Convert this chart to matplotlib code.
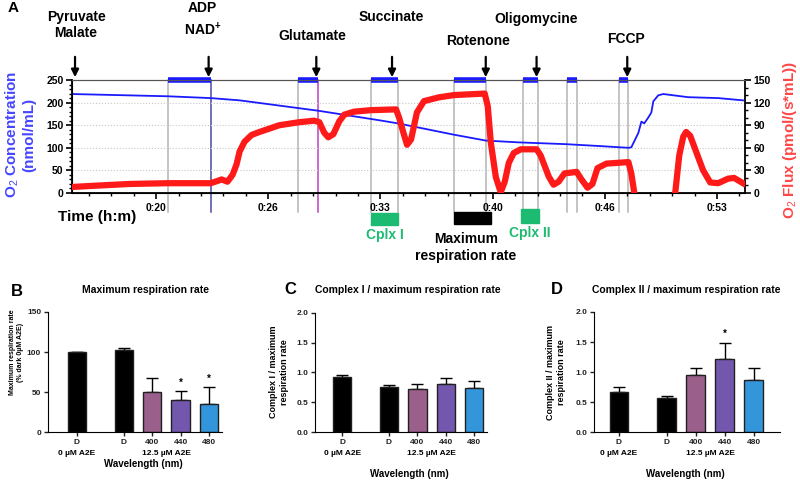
import numpy as np
import matplotlib
matplotlib.use("Agg")
import matplotlib.pyplot as plt
from matplotlib.patches import Rectangle
from matplotlib import font_manager

plt.rcParams['font.family'] = ['Liberation Sans', 'DejaVu Sans']
plt.rcParams['mathtext.fontset'] = 'custom'
plt.rcParams['mathtext.rm'] = 'Liberation Sans'
plt.rcParams['mathtext.bf'] = 'Liberation Sans:bold'

# ---- panel A data (time in minutes) ----
t_o2 = [15.0, 20.69, 23.24, 24.96, 29.64, 33.25, 34.38, 37.70, 39.59, 41.55, 44.39,
        46.29, 48.07, 48.24, 48.66, 48.84, 49.01, 49.25, 49.43, 49.55, 49.84, 50.14,
        51.62, 53.40, 54.88]
o2_conc = [219, 214, 210, 205, 182, 161, 154, 129, 116, 112, 108,
           104, 100, 101, 133, 158, 154, 167, 178, 203, 216, 219,
           212, 210, 205]

t_flux = [15.0, 16.66, 18.44, 20.69, 23.24, 23.65, 23.89, 24.24, 24.54, 24.78, 24.96,
          25.25, 25.67, 26.14, 27.33, 28.51, 29.40, 29.70, 29.99, 30.23, 30.53, 30.88,
          31.18, 31.77, 32.78, 34.26, 34.44, 34.67, 34.91, 35.15, 35.50, 35.92, 36.81,
          37.70, 39.53, 39.71, 39.89, 40.19, 40.48, 40.72, 40.96, 41.25, 41.67, 42.61,
          42.85, 43.09, 43.33, 43.62, 43.92, 44.27, 44.99, 45.28, 45.64, 45.93, 46.23,
          46.76, 48.07, 48.24, 48.42, 48.66, 50.70, 50.85, 51.09, 51.33, 51.50, 51.74,
          52.04, 52.51, 52.93, 53.40, 53.99, 54.35, 54.88]
o2_flux = [8, 10, 12, 13, 13, 16, 18, 15, 24, 38, 55,
           68, 77, 81, 90, 94, 96, 94, 80, 74, 78, 95,
           104, 108, 110, 111, 100, 82, 64, 71, 107, 122, 127,
           130, 132, 115, 67, 21, 1, 15, 40, 53, 58, 58,
           50, 36, 22, 11, 15, 26, 28, 18, 7, 12, 33,
           39, 41, 26, 0, -40, -40, 0, 50, 75, 81, 76,
           58, 30, 14, 13, 19, 20, 13]

# marked windows (start, end) in minutes
windows = [(20.69, 23.24), (28.45, 29.64), (32.78, 34.38), (37.70, 39.59),
           (41.79, 42.67), (44.39, 45.04), (47.53, 48.07)]

# injections
arrow_t = [15.18, 23.12, 29.52, 34.02, 39.59, 42.61, 48.0]
inj_labels = ["Pyruvate\nMalate", "ADP", "NAD$^{\\mathbf{+}}$", "Glutamate", "Succinate",
              "Rotenone", "Oligomycine", "FCCP"]
inj_label_t = [15.24, 22.75, 22.75, 29.28, 33.96, 39.12, 42.56, 47.95]
inj_label_y = [1.487, 1.637, 1.442, 1.389, 1.558, 1.345, 1.54, 1.363]

time_ticks = [20, 26.667, 33.333, 40, 46.667, 53.333]
time_labels = ["0:20", "0:26", "0:33", "0:40", "0:46", "0:53"]

# ---- bar panels data ----
groups = ["D", "D", "400", "440", "480"]
bar_colors = ["black", "black", "#9b5f8b", "#7357af", "#3396db"]
max_resp = [100, 103, 50, 39.5, 35]
max_resp_err = [0, 2, 17, 12, 21]
cplx1 = [0.93, 0.76, 0.72, 0.81, 0.735]
cplx1_err = [0.02, 0.025, 0.09, 0.10, 0.115]
cplx2 = [0.66, 0.56, 0.95, 1.21, 0.87]
cplx2_err = [0.09, 0.035, 0.11, 0.28, 0.20]

BLUE = "#1a1aff"
RED = "#ff1a1a"
GREEN = "#1dbb72"

fig = plt.figure(figsize=(8, 4.82), dpi=100)

# ================= Panel A =================
axA = fig.add_axes([0.09, 0.5996, 0.8413, 0.2344])
axR = axA.twinx()
axA.set_xlim(15, 55)
axA.set_ylim(0, 250)
axR.set_ylim(0, 150)

axA.yaxis.grid(True, ls=':', color='#c8c8c8', lw=0.8)
axA.plot(t_o2, o2_conc, color=BLUE, lw=1.3, zorder=3)
axR.plot(t_flux, o2_flux, color=RED, lw=4.5, solid_joinstyle='round', zorder=3)

xt = axA.get_xaxis_transform()
for i, (a, b) in enumerate(windows):
    for j, t in enumerate((a, b)):
        col = '#b4b4b4'
        if i == 0 and j == 1:
            col = '#4a4aa0'
        if i == 1 and j == 1:
            col = '#c040c0'
        axA.plot([t, t], [-0.168, 1], transform=xt, color=col, lw=1.1,
                 clip_on=False, zorder=1)
    axA.plot([a, b], [1.0, 1.0], transform=xt, color=BLUE, lw=4,
             solid_capstyle='butt', clip_on=False, zorder=5)

for t in arrow_t:
    axA.annotate('', xy=(t, 1.025), xytext=(t, 1.205), xycoords=xt, textcoords=xt,
                 arrowprops=dict(arrowstyle='-|>', color='black', lw=1.6,
                                 mutation_scale=11, shrinkA=0, shrinkB=0))
for s, t, y in zip(inj_labels, inj_label_t, inj_label_y):
    axA.text(t, y, s, transform=xt, ha='center', va='center', fontsize=10,
             fontweight='bold', linespacing=1.15)

# boxes below the time axis
cp1 = windows[2]
axA.add_patch(Rectangle((cp1[0], -0.283), cp1[1] - cp1[0], 0.106, transform=xt,
                        color=GREEN, clip_on=False))
axA.text(np.mean(cp1), -0.37, "Cplx I", transform=xt, ha='center', va='center',
         fontsize=10, fontweight='bold', color=GREEN)
mx = windows[3]
axA.add_patch(Rectangle((mx[0], -0.274), mx[1] - mx[0] + 0.3, 0.106, transform=xt,
                        color='black', clip_on=False))
axA.text(np.mean(mx) - 0.25, -0.48, "Maximum\nrespiration rate", transform=xt,
         ha='center', va='center', fontsize=10, fontweight='bold', linespacing=1.25)
cp2 = windows[4]
axA.add_patch(Rectangle((cp2[0] - 0.1, -0.265), cp2[1] - cp2[0] + 0.2, 0.123,
                        transform=xt, color=GREEN, clip_on=False))
axA.text(np.mean(cp2), -0.35, "Cplx II", transform=xt, ha='center', va='center',
         fontsize=10, fontweight='bold', color=GREEN)

axA.set_xticks(time_ticks)
axA.set_xticklabels(time_labels)
axA.set_xticks(np.arange(16, 55, 4 / 3), minor=True)
axA.set_yticks(range(0, 251, 50))
axA.set_yticks(range(0, 251, 10), minor=True)
axR.set_yticks(range(0, 151, 30))
axR.set_yticks(range(0, 151, 10), minor=True)
for a in (axA, axR):
    a.tick_params(which='major', length=4, width=1.2, labelsize=7.5, pad=2)
    a.tick_params(which='minor', length=2.5, width=1)
    for lab in a.get_xticklabels() + a.get_yticklabels():
        lab.set_fontweight('bold')
axA.tick_params(axis='x', pad=3)
for sp in ('left', 'bottom'):
    axA.spines[sp].set_linewidth(1.3)
axR.spines['right'].set_linewidth(1.3)
axA.spines['top'].set_color('#555555')
axR.spines['top'].set_color('#555555')
axA.spines['right'].set_visible(False)

fig.text(0.025, 0.72, "O$_2$ Concentration\n(nmol/mL)", rotation=90, ha='center',
         va='center', fontsize=11, fontweight='bold', color='#4646ff', linespacing=1.1)
fig.text(0.988, 0.71, "O$_2$ Flux (pmol/(s*mL))", rotation=90, ha='center',
         va='center', fontsize=11, fontweight='bold', color='#ff4646')
fig.text(0.072, 0.55, "Time (h:m)", ha='left', va='center', fontsize=11,
         fontweight='bold')
fig.text(0.009, 0.983, "A", ha='left', va='center', fontsize=11, fontweight='bold')

# ================= Panels B-D =================
pos = [0, 1.65, 2.65, 3.65, 4.65]


def bar_panel(rect, vals, errs, ymax, yticks, xlim, stars, star_y, wl_x, wl_y):
    ax = fig.add_axes(rect)
    ax.bar(pos, vals, width=0.65, color=bar_colors, edgecolor='#202020', lw=1, zorder=2)
    ax.errorbar(pos, vals, yerr=[np.zeros(len(vals)), errs], fmt='none',
                ecolor='black', elinewidth=1, capsize=4, capthick=1, zorder=1)
    for i in stars:
        ax.text(pos[i], star_y[i], "*", ha='center', va='center', fontsize=7,
                fontweight='bold')
    ax.set_xlim(*xlim)
    ax.set_ylim(0, ymax)
    ax.set_yticks(yticks)
    ax.set_xticks(pos)
    ax.set_xticklabels(groups)
    ax.spines['top'].set_visible(False)
    ax.spines['right'].set_visible(False)
    ax.spines['left'].set_bounds(0, ymax)
    ax.tick_params(length=3, width=1, labelsize=6, pad=2, colors='#222222')
    for lab in ax.get_xticklabels() + ax.get_yticklabels():
        lab.set_fontweight('bold')
    bt = ax.get_xaxis_transform()
    ax.text(pos[0], -0.183, "0 µM A2E", transform=bt, ha='center', va='center',
            fontsize=6, fontweight='bold')
    ax.text(np.mean(pos[1:]), -0.183, "12.5 µM A2E", transform=bt, ha='center',
            va='center', fontsize=6, fontweight='bold')
    ax.text(wl_x, wl_y, "Wavelength (nm)", transform=ax.transAxes,
            ha='center', va='center', fontsize=7, fontweight='bold')
    return ax


bar_panel([0.06, 0.1037, 0.2175, 0.249], max_resp, max_resp_err, 150,
          [0, 50, 100, 150], (-1.02, 5.11), [3, 4], {3: 62, 4: 66}, 0.546, -0.267)
bar_panel([0.394, 0.1037, 0.215, 0.247], cplx1, cplx1_err, 2.0,
          [0, 0.5, 1.0, 1.5, 2.0], (-0.95, 5.11), [], {}, 0.547, -0.35)
bar_panel([0.7425, 0.1037, 0.2325, 0.249], cplx2, cplx2_err, 2.0,
          [0, 0.5, 1.0, 1.5, 2.0], (-0.86, 5.55), [3], {3: 1.63}, 0.49, -0.35)

fig.text(145 / 800, 1 - 290 / 482, "Maximum respiration rate", ha='center',
         va='center', fontsize=7.5, fontweight='bold')
fig.text(408 / 800, 1 - 290 / 482, "Complex I / maximum respiration rate",
         ha='center', va='center', fontsize=7.5, fontweight='bold')
fig.text(686 / 800, 1 - 290 / 482, "Complex II / maximum respiration rate",
         ha='center', va='center', fontsize=7.5, fontweight='bold')
fig.text(17 / 800, 1 - 291 / 482, "B", ha='center', va='center', fontsize=12,
         fontweight='bold')
fig.text(290 / 800, 1 - 290 / 482, "C", ha='center', va='center', fontsize=12,
         fontweight='bold')
fig.text(557 / 800, 1 - 290 / 482, "D", ha='center', va='center', fontsize=12,
         fontweight='bold')

# the B axis title is set in a narrow face in the original
installed = {f.name for f in font_manager.fontManager.ttflist}
if 'Liberation Sans Narrow' in installed:
    b_font, b_size = 'Liberation Sans Narrow', 6.5
else:
    b_font, b_size = 'Liberation Sans', 5.0
fig.text(17 / 800, 1 - 352 / 482, "Maximum respiration rate\n(% dark 0µM A2E)",
         rotation=90, ha='center', va='center', fontsize=b_size, fontweight='bold',
         family=[b_font, 'DejaVu Sans'])
fig.text(279 / 800, 1 - 372 / 482, "Complex I / maximum\nrespiration rate",
         rotation=90, ha='center', va='center', fontsize=6.5, fontweight='bold')
fig.text(556 / 800, 1 - 372 / 482, "Complex II / maximum\nrespiration rate",
         rotation=90, ha='center', va='center', fontsize=6.5, fontweight='bold')

fig.savefig("out.png", dpi=100)
